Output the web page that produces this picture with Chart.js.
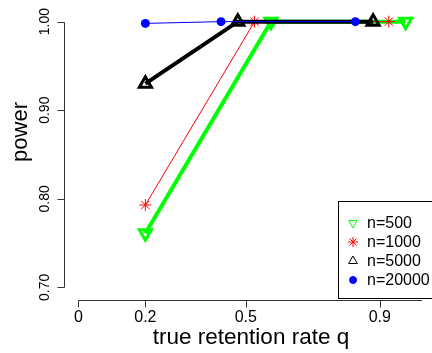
<!DOCTYPE html>
<html lang="en">
<head>
    <meta charset="UTF-8">
    <script src="https://cdn.jsdelivr.net/npm/chart.js@4.4.1/dist/chart.umd.min.js"></script>
    <title>Power vs true retention rate</title>
    <style>
        html, body { margin: 0; padding: 0; background: #fff; }
        #wrap { width: 432px; height: 353px; position: relative; }
    </style>
</head>
<body>
    <div id="wrap"><canvas id="powerChart"></canvas></div>
    <script>
        // values
        const seriesLabels = ['n=500', 'n=1000', 'n=5000', 'n=20000'];
        const q500 = [0.2, 0.575, 0.977];
        const power500 = [0.761, 1.0, 1.0];
        const q1000 = [0.2, 0.526, 0.927];
        const power1000 = [0.793, 1.0, 1.0];
        const q5000 = [0.2, 0.476, 0.88];
        const power5000 = [0.93, 1.0, 1.0];
        const q20000 = [0.2, 0.426, 0.827];
        const power20000 = [0.998, 1.0, 1.0];
        const xTicks = [0, 0.2, 0.5, 0.9];
        const xTickLabels = ['0', '0.2', '0.5', '0.9'];
        const yTicks = [0.7, 0.8, 0.9, 1.0];
        const yTickLabels = ['0.70', '0.80', '0.90', '1.00'];

        const FONT = '"Liberation Sans", Arial, sans-serif';

        function pts(xs, ys) {
            return xs.map((x, i) => ({ x: x, y: ys[i] }));
        }

        const styles = [
            { color: '#00ff00', pointStyle: 'triangle', rotation: 180, radius: 7, lw: 4, pbw: 3, fill: 'rgba(0,0,0,0)' },
            { color: '#ff0000', pointStyle: 'star', rotation: 0, radius: 6, lw: 1, pbw: 1, fill: 'rgba(0,0,0,0)' },
            { color: '#000000', pointStyle: 'triangle', rotation: 0, radius: 7, lw: 4, pbw: 3, fill: 'rgba(0,0,0,0)' },
            { color: '#0000ff', pointStyle: 'circle', rotation: 0, radius: 4.5, lw: 1, pbw: 0, fill: '#0000ff' }
        ];
        const allData = [pts(q500, power500), pts(q1000, power1000), pts(q5000, power5000), pts(q20000, power20000)];

        const datasets = allData.map((d, i) => ({
            label: seriesLabels[i],
            data: d,
            showLine: true,
            borderColor: styles[i].color,
            borderWidth: styles[i].lw,
            pointStyle: styles[i].pointStyle,
            pointRotation: styles[i].rotation,
            pointRadius: styles[i].radius,
            pointBorderWidth: styles[i].pbw,
            pointBorderColor: styles[i].color,
            pointBackgroundColor: styles[i].fill,
            pointHoverRadius: styles[i].radius,
            order: 4 - i,
            clip: false
        }));

        // R-style axes, titles and legend box
        const rAxes = {
            id: 'rAxes',
            afterDraw(chart) {
                const ctx = chart.ctx;
                const xs = chart.scales.x, ys = chart.scales.y;
                ctx.save();
                ctx.strokeStyle = '#333';
                ctx.lineWidth = 1;

                // x axis
                const yAx = ys.bottom + 2.5;
                ctx.beginPath();
                ctx.moveTo(Math.round(xs.getPixelForValue(xTicks[0])) + 0.5, yAx);
                ctx.lineTo(xs.right, yAx);
                xTicks.forEach(t => {
                    const px = Math.round(xs.getPixelForValue(t)) + 0.5;
                    ctx.moveTo(px, yAx);
                    ctx.lineTo(px, yAx + 7);
                });
                ctx.stroke();
                ctx.fillStyle = '#000';
                ctx.font = '16px ' + FONT;
                ctx.textAlign = 'center';
                ctx.textBaseline = 'middle';
                xTicks.forEach((t, i) => {
                    ctx.fillText(xTickLabels[i], xs.getPixelForValue(t), yAx + 17);
                });

                // y axis
                const xAx = xs.left - 0.5;
                ctx.beginPath();
                ctx.moveTo(xAx, Math.round(ys.getPixelForValue(yTicks[0])) + 0.5);
                ctx.lineTo(xAx, Math.round(ys.getPixelForValue(yTicks[yTicks.length - 1])) + 0.5);
                yTicks.forEach(t => {
                    const py = Math.round(ys.getPixelForValue(t)) + 0.5;
                    ctx.moveTo(xAx, py);
                    ctx.lineTo(xAx - 7, py);
                });
                ctx.stroke();
                ctx.font = '14px ' + FONT;
                yTicks.forEach((t, i) => {
                    ctx.save();
                    ctx.translate(xAx - 19, ys.getPixelForValue(t));
                    ctx.rotate(-Math.PI / 2);
                    ctx.fillText(yTickLabels[i], 0, 0);
                    ctx.restore();
                });

                // axis titles
                ctx.font = '22.5px ' + FONT;
                ctx.textBaseline = 'alphabetic';
                ctx.fillText('true retention rate q', 251, 344);
                ctx.save();
                ctx.translate(27, 132);
                ctx.rotate(-Math.PI / 2);
                ctx.font = '22px ' + FONT;
                ctx.fillText('power', 0, 0);
                ctx.restore();

                // legend box and entries
                ctx.strokeStyle = '#000';
                ctx.strokeRect(338.5, 201.5, 110, 97);
                ctx.font = '16px ' + FONT;
                ctx.textAlign = 'left';
                ctx.textBaseline = 'middle';
                seriesLabels.forEach((lab, i) => {
                    const yy = 223 + i * 19;
                    const st = styles[i];
                    ctx.save();
                    ctx.strokeStyle = st.color;
                    ctx.fillStyle = st.fill;
                    ctx.lineWidth = 1;
                    Chart.helpers.drawPoint(ctx, {
                        pointStyle: st.pointStyle,
                        rotation: st.rotation,
                        radius: st.pointStyle === 'circle' ? 3.5 : 5,
                        borderWidth: 1
                    }, 353, yy);
                    ctx.restore();
                    ctx.fillStyle = '#000';
                    ctx.fillText(lab, 367, yy + 1);
                });
                ctx.restore();
            }
        };

        new Chart(document.getElementById('powerChart'), {
            type: 'scatter',
            data: { datasets: datasets },
            options: {
                responsive: true,
                maintainAspectRatio: false,
                animation: false,
                layout: { padding: { left: 65, right: 0, top: 11, bottom: 55 } },
                plugins: { legend: { display: false }, tooltip: { enabled: false } },
                scales: {
                    x: { type: 'linear', min: -0.04, max: 1.026, display: false },
                    y: { type: 'linear', min: 0.688, max: 1.012, display: false }
                }
            },
            plugins: [rAxes]
        });
    </script>
</body>
</html>
